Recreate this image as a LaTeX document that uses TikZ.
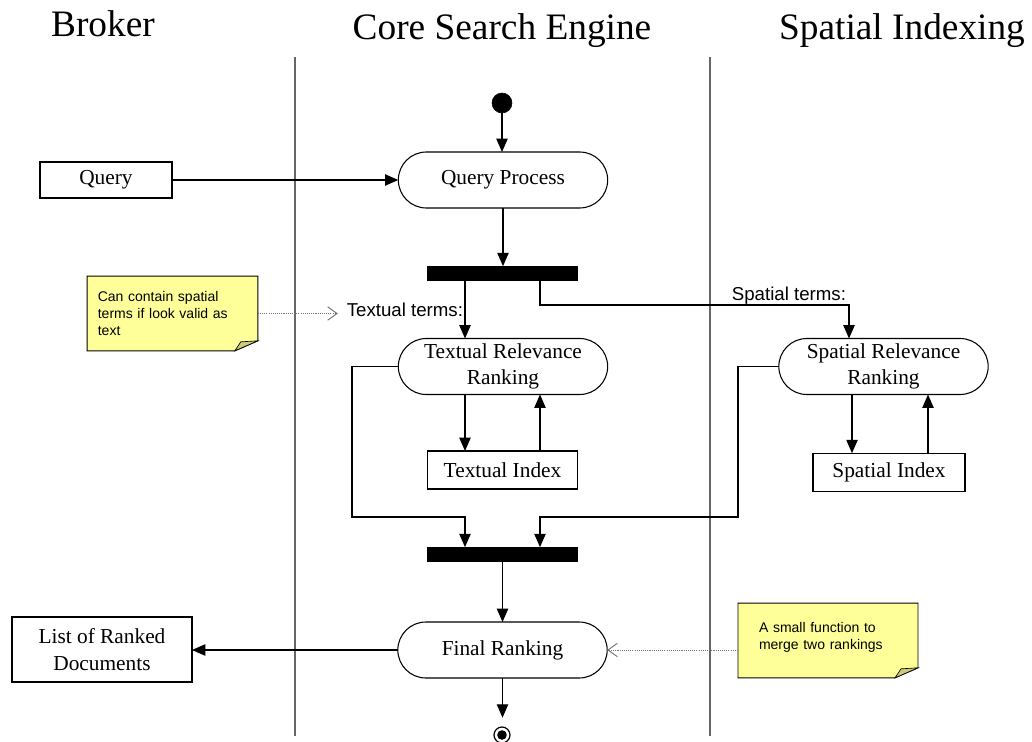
\documentclass[tikz,border=0pt]{standalone}
\usepackage{fontspec}
\setmainfont{Liberation Serif}
\newfontfamily\notefont{Liberation Sans}
\usetikzlibrary{arrows.meta,calc,backgrounds}
\definecolor{notebg}{HTML}{FFFF99}
\definecolor{notefold}{HTML}{CCCC77}
\begin{document}
\begin{tikzpicture}[x=0.75pt,y=-0.75pt,
  every node/.style={inner sep=0pt, outer sep=0pt},
  bodyfont/.style={font=\fontsize{16}{20}\selectfont},
  activity/.style={bodyfont, draw, line width=0.8pt, rounded corners=21pt,
    minimum width=157pt, minimum height=42pt, align=center},
  object/.style={bodyfont, draw, line width=0.8pt, align=center},
  syncbar/.style={fill=black, minimum width=113pt, minimum height=11pt},
  lanetitle/.style={font=\fontsize{28}{33}\selectfont, anchor=base},
  guard/.style={font=\notefont\fontsize{14}{16}\selectfont},
  note/.style={font=\notefont\fontsize{10.5}{13.1}\selectfont, align=left,
    minimum height=56pt},
  flow/.style={line width=0.9pt, -{Triangle[length=10pt,width=8.5pt]}},
  lane/.style={draw=black!60, line width=1.5pt},
  notelink/.style={draw=black!55, line width=0.7pt, dash pattern=on 0.8pt off 0.8pt,
    -{Straight Barb[length=7pt,width=10pt,line width=0.7pt]}}
]
\useasboundingbox (0,0) rectangle (1032,742);

% swimlane separators and titles
\draw[lane] (295,57) -- (295,736);
\draw[lane] (710,57) -- (710,736);
\node[lanetitle] (tbroker) at (103,37) {Broker};
\node[lanetitle] (tcore) at (502,40) {Core Search Engine};
\node[lanetitle] (tspatial) at (902,40) {Spatial Indexing};

% activities, objects and synchronisation bars
\node[circle, draw, fill=black, minimum size=15pt] (start) at (502,103) {};
\node[activity] (qp) at (503,180) {Query Process};
\node[object, minimum width=99pt, minimum height=27pt] (query) at (106,180) {Query};
\node[syncbar] (fork) at (502.5,273.5) {};
\node[activity] (trr) at (503,366.5) {Textual Relevance\\Ranking};
\node[activity] (srr) at (883.5,366.5) {Spatial Relevance\\Ranking};
\node[object, minimum width=113pt, minimum height=28.5pt] (tidx) at (502.5,470) {Textual Index};
\node[object, minimum width=114pt, minimum height=29pt] (sidx) at (889,472.5) {Spatial Index};
\node[syncbar] (join) at (502.5,554.5) {};
\node[activity] (fr) at (502.5,650) {Final Ranking};
\node[object, minimum width=135pt, minimum height=48.75pt] (docs) at (102,649.5) {List of Ranked\\Documents};
\node[circle, draw, line width=0.9pt, minimum size=12pt,
  path picture={\fill (path picture bounding box.center) circle (3.6pt);}] (end) at (502,735) {};

% guard labels
\node[guard, anchor=base east] (tterms) at (463,316) {Textual terms:};
\node[guard, anchor=base east] (sterms) at (846,300) {Spatial terms:};

% notes
\node[note, text width=112pt, inner xsep=8pt] (n1) at (172.5,313.5)
  {Can contain spatial\\terms if look valid as\\text};
\node[note, text width=103.5pt, inner xsep=15.75pt] (n2) at (828,640.5)
  {A small function to\\merge two rankings\\[-6pt]\mbox{}};
\begin{scope}[on background layer]
  \foreach \n in {n1,n2} {
    \filldraw[fill=notebg, draw=black, line width=0.7pt]
      (\n.north west) -- (\n.north east) -- ($(\n.south east)+(0,-10)$)
      -- ($(\n.south east)+(-23,0)$) -- (\n.south west) -- cycle;
    \filldraw[fill=notefold, draw=black, line width=0.5pt]
      ($(\n.south east)+(-23,0)$) -- ($(\n.south east)+(-17,-9)$)
      -- ($(\n.south east)+(0,-10)$) -- cycle;
  }
\end{scope}

% branch columns
\coordinate (tx) at (465,0);
\coordinate (ux) at (540,0);
\coordinate (vx) at (852,0);
\coordinate (wx) at (928,0);
\coordinate (sbend) at (849,305);
\coordinate (lbend) at (352,517);
\coordinate (rbend) at (738,517);

% control flow
\draw[flow] (start.south) -- (start.south |- qp.north);
\draw[flow] (query) -- (qp);
\draw[flow] (qp.south) -- (qp.south |- fork.north);
\draw[flow] (fork.south -| tx) -- (trr.north -| tx);
\draw[flow] (fork.south -| ux) |- (sbend) -- (srr.north -| sbend);
\draw[flow] (trr.south -| tx) -- (tidx.north -| tx);
\draw[flow] (tidx.north -| ux) -- (trr.south -| ux);
\draw[flow] (srr.south -| vx) -- (sidx.north -| vx);
\draw[flow] (sidx.north -| wx) -- (srr.south -| wx);
\draw[flow] (trr.west) -| (lbend) -- (lbend -| tx) -- (join.north -| tx);
\draw[flow] (srr.west) -| (rbend) -- (rbend -| ux) -- (join.north -| ux);
\draw[flow] (join.south) -- (join.south |- fr.north);
\draw[flow] (fr.west) -- (fr.west -| docs.east);
\draw[flow, shorten >=7pt] (fr.south) -- (fr.south |- end.north);

% note attachments
\coordinate (tip1) at ($(tterms.west |- n1.east)+(-9,0)$);
\draw[notelink] (n1.east) -- (tip1);
\draw[notelink] (n2.west |- fr.east) -- (fr.east);
\end{tikzpicture}
\end{document}
